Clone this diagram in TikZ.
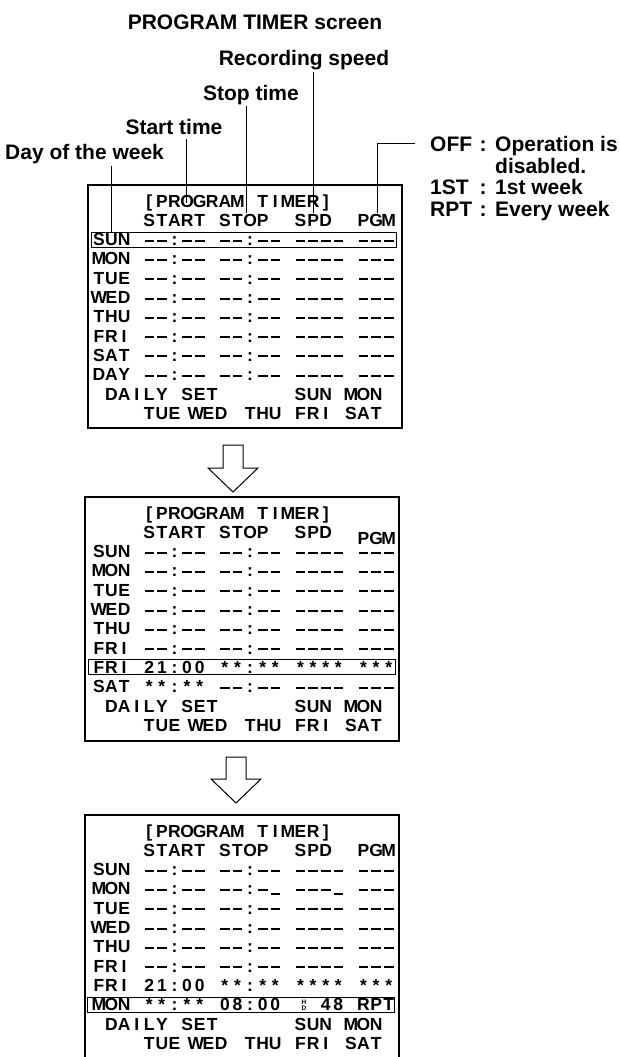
\documentclass[tikz,border=0pt]{standalone}
\usepackage{fontspec}
\setmainfont{Liberation Sans}
\newcount\lcdcol
\newcount\lcdn
\newcommand\lcdend{LCDEND}
\newcommand\lcdfont{\fontsize{17.5}{17.5}\selectfont\bfseries}
\newcommand\labfont{\fontsize{21}{21}\selectfont\bfseries}
\newcommand\lcd[3]{\lcdcol=0\relax\def\lcdbase{#1}\def\lcdy{#2}\lcdloop#3\lcdend}
\def\lcdloop#1{\ifx#1\lcdend\else\lcdput{#1}\advance\lcdcol by 1\relax\expandafter\lcdloop\fi}
\def\lcdput#1{%
  \pgfmathsetmacro\lcdx{98.9+12.6*(\lcdbase+\the\lcdcol)}%
  \global\advance\lcdn by 1\relax
  \ifx#1-\pgfmathsetmacro\lcddy{round(\lcdy-5)}\draw[lcddash] (\lcdx-4.8,\lcddy) -- (\lcdx+4.8,\lcddy);%
  \else\ifx#1_\pgfmathsetmacro\lcddy{round(\lcdy-1)}\draw[lcddash] (\lcdx-4.8,\lcddy) -- (\lcdx+4.8,\lcddy);%
  \else\node[lcdch] (ch\the\lcdn) at (\lcdx,\lcdy) {#1};\fi\fi}
\newcommand\dashrow[2]{\lcd{0}{#1}{#2}\lcd{4}{#1}{--:--}\lcd{10}{#1}{--:--}\lcd{16}{#1}{----}\lcd{21}{#1}{---}}
\newcommand\footrows[2]{%
  \lcd{1}{#1}{DAILY}\lcd{7}{#1}{SET}\lcd{16}{#1}{SUN}\lcd{20}{#1}{MON}%
  \lcd{4}{#2}{TUE}\lcd{7.7}{#2}{WED}\lcd{12}{#2}{THU}\lcd{16}{#2}{FRI}\lcd{20}{#2}{SAT}}
\tikzset{
  lcdch/.style={anchor=base,inner sep=0pt,font=\lcdfont},
  lcddash/.style={line width=2pt},
  lab/.style={anchor=base,inner sep=0pt,font=\labfont},
  screen/.style={draw,line width=1.3pt},
  hl/.style={draw,line width=0.9pt},
  leader/.style={line width=1pt},
  bigarrow/.style={draw,line width=1pt,fill=white,line join=miter}
}
\begin{document}
\begin{tikzpicture}[x=1pt,y=-1pt]
\useasboundingbox (0,0) rectangle (619,1057);
\fill[white] (0,0) rectangle (619,1057);

% ---- labels ----
\node[lab] (title) at (255,29.5) {PROGRAM TIMER screen};
\node[lab] (lrec) at (304,65.5) {Recording speed};
\node[lab] (lstop) at (251,100.5) {Stop time};
\node[lab] (lstart) at (174,134.5) {Start time};
\node[lab,anchor=base west] (lday) at (5,159.5) {Day of the week};

\node[lab,anchor=base west] (loff) at (430,151.5) {OFF};
\node[lab] (coff) at (483,151.5) {:};
\node[lab,anchor=base west] (toff) at (495,151.5) {Operation is};
\node[lab,anchor=base west] (toff2) at (495,173) {disabled.};
\node[lab,anchor=base west] (l1st) at (430,194.5) {1ST};
\node[lab] (c1st) at (483,194.5) {:};
\node[lab,anchor=base west] (t1st) at (495,194.5) {1st week};
\node[lab,anchor=base west] (lrpt) at (430,216) {RPT};
\node[lab] (crpt) at (483,216) {:};
\node[lab,anchor=base west] (trpt) at (495,216) {Every week};

% ---- leaders ----
\coordinate (eday) at (111,232);
\coordinate (sday) at (111,166);
\coordinate (estart) at (186,203);
\coordinate (sstart) at (186,139);
\coordinate (estop) at (246,213);
\coordinate (sstop) at (246,106);
\coordinate (erec) at (313,213);
\coordinate (srec) at (313,72);
\coordinate (epgm) at (377,213);
\coordinate (kpgm) at (377,143);
\coordinate (spgm) at (415,143);
\draw[leader] (sday) -- (eday);
\draw[leader] (sstart) -- (estart);
\draw[leader] (sstop) -- (estop);
\draw[leader] (srec) -- (erec);
\draw[leader] (epgm) -- (kpgm) -- (spgm);

% ---- screen 1 ----
\draw[screen] (88,185) rectangle (402,428);
\draw[hl] (91,232) rectangle (396,247);
\lcd{4}{207}{[PROGRAM}\lcd{13}{207}{TIMER]}
\lcd{4}{226.3}{START}\lcd{10}{226.3}{STOP}\lcd{16}{226.3}{SPD}\lcd{21}{226.3}{PGM}
\dashrow{245.6}{SUN}
\dashrow{264.9}{MON}
\dashrow{284.2}{TUE}
\dashrow{303.5}{WED}
\dashrow{322.8}{THU}
\dashrow{342.1}{FRI}
\dashrow{361.4}{SAT}
\dashrow{380.7}{DAY}
\footrows{400}{419.3}

% ---- arrow 1 ----
\draw[bigarrow] (223,445) -- (243,445) -- (243,468) -- (258,468) -- (233,492) -- (208,468) -- (223,468) -- cycle;

% ---- screen 2 ----
\draw[screen] (85,497) rectangle (399,741);
\draw[hl] (88,659.8) rectangle (395,674.8);
\lcd{4}{519}{[PROGRAM}\lcd{13}{519}{TIMER]}
\lcd{4}{538.3}{START}\lcd{10}{538.3}{STOP}\lcd{16}{538.3}{SPD}\lcd{21}{544}{PGM}
\dashrow{557.6}{SUN}
\dashrow{576.9}{MON}
\dashrow{596.2}{TUE}
\dashrow{615.5}{WED}
\dashrow{634.8}{THU}
\dashrow{654.1}{FRI}
\lcd{0}{673.4}{FRI}\lcd{4}{673.4}{21:00}\lcd{10}{673.4}{**:**}\lcd{16}{673.4}{****}\lcd{21}{673.4}{***}
\lcd{0}{692.7}{SAT}\lcd{4}{692.7}{**:**}\lcd{10}{692.7}{--:--}\lcd{16}{692.7}{----}\lcd{21}{692.7}{---}
\footrows{712}{731.3}

% ---- arrow 2 ----
\draw[bigarrow] (226,757) -- (246,757) -- (246,779) -- (261,779) -- (236,803) -- (211,779) -- (226,779) -- cycle;

% ---- screen 3 ----
\draw[screen] (85,815) rectangle (399,1062);
\draw[hl] (87,997.1) rectangle (394,1012.1);
\lcd{4}{837}{[PROGRAM}\lcd{13}{837}{TIMER]}
\lcd{4}{856.3}{START}\lcd{10}{856.3}{STOP}\lcd{16}{856.3}{SPD}\lcd{21}{856.3}{PGM}
\dashrow{875.6}{SUN}
\lcd{0}{894.9}{MON}\lcd{4}{894.9}{--:--}\lcd{10}{894.9}{--:-_}\lcd{16}{894.9}{---_}\lcd{21}{894.9}{---}
\dashrow{914.2}{TUE}
\dashrow{933.5}{WED}
\dashrow{952.8}{THU}
\dashrow{972.1}{FRI}
\lcd{0}{991.4}{FRI}\lcd{4}{991.4}{21:00}\lcd{10}{991.4}{**:**}\lcd{16}{991.4}{****}\lcd{21}{991.4}{***}
\lcd{0}{1010.7}{MON}\lcd{4}{1010.7}{**:**}\lcd{10}{1010.7}{08:00}\lcd{18}{1010.7}{48}\lcd{21}{1010.7}{RPT}
\node[anchor=base,inner sep=0pt,font=\fontsize{6.5}{6.5}\selectfont\bfseries] (hdh) at (304,1004) {H};
\node[anchor=base,inner sep=0pt,font=\fontsize{6.5}{6.5}\selectfont\bfseries] (hdd) at (304,1010.7) {D};
\footrows{1030}{1049.3}
\end{tikzpicture}
\end{document}
